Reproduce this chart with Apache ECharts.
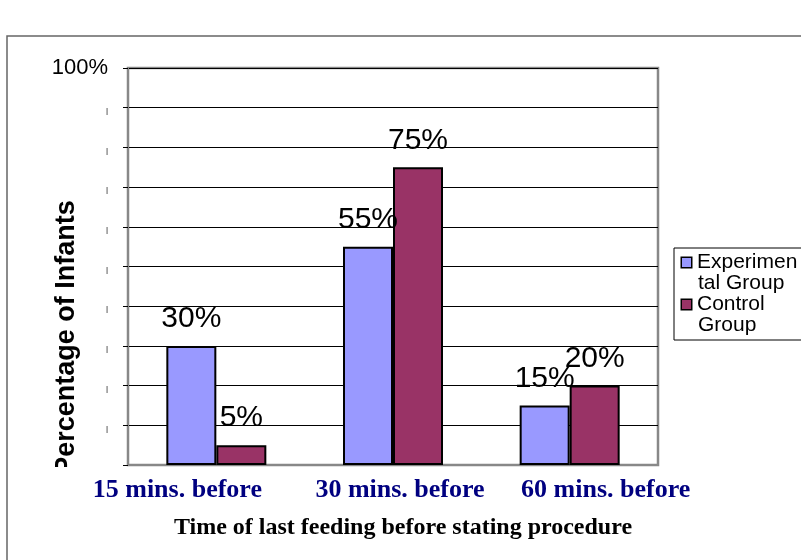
<!DOCTYPE html>
<html>
<head>
<meta charset="utf-8">
<script src="https://cdn.jsdelivr.net/npm/echarts@6/dist/echarts.min.js"></script>
<style>
html,body{margin:0;padding:0;background:#fff;}
#chart{width:801px;height:560px;}
</style>
</head>
<body>
<div id="chart"></div>
<script>
var categories = ['15 mins. before', '30 mins. before', '60 mins. before'];
var experimental = [30, 55, 15];
var control = [5, 75, 20];
var seriesNames = ['Experimental Group', 'Control Group'];
var legendLines = {
  'Experimental Group': ['Experimen', 'tal Group'],
  'Control Group': ['Control', 'Group']
};
var yTickLabels = ['', '|', '|', '|', '|', '|', '|', '|', '|', '|', '100%'];
var yAxisTitle = 'Percentage of Infants';
var xAxisTitle = 'Time of last feeding before stating procedure';

var colors = ['#9999FF', '#993366'];
var catShift = [-39, 7, 36];

var chart = echarts.init(document.getElementById('chart'), null, {renderer: 'canvas'});

var xRich = {};
categories.forEach(function (c, i) {
  var s = catShift[i];
  xRich['c' + i] = {
    fontFamily: 'Liberation Serif',
    fontWeight: 'bold',
    fontSize: 26,
    color: '#000080',
    padding: s < 0 ? [0, -2 * s, 0, 0] : [0, 0, 0, 2 * s]
  };
});

var option = {
  animation: false,
  backgroundColor: '#fff',
  grid: {
    left: 128, right: 143, top: 68, bottom: 95,
    show: true, borderColor: '#888', borderWidth: 2.5, backgroundColor: 'transparent'
  },
  legend: {
    orient: 'vertical',
    left: 674, top: 248,
    padding: [4, 30, 4, 2],
    itemGap: 0,
    icon: 'none',
    itemWidth: 1, itemHeight: 1,
    borderColor: '#000', borderWidth: 1,
    data: seriesNames,
    formatter: function (name) {
      var idx = seriesNames.indexOf(name);
      var lines = legendLines[name];
      return '{sq' + idx + '|}{g|}{t|' + lines[0] + '}\n{ind|}{t|' + lines[1] + '}';
    },
    textStyle: {
      rich: {
        sq0: {width: 9, height: 9, backgroundColor: colors[0], borderColor: '#000', borderWidth: 1.5, lineHeight: 21},
        sq1: {width: 9, height: 9, backgroundColor: colors[1], borderColor: '#000', borderWidth: 1.5, lineHeight: 21},
        g: {width: 6, lineHeight: 21},
        ind: {width: 16, lineHeight: 21},
        t: {fontFamily: 'Liberation Sans', fontSize: 21, lineHeight: 21, color: '#000'}
      }
    }
  },
  xAxis: {
    type: 'category',
    data: categories,
    axisLine: {show: true, lineStyle: {color: '#888', width: 2}},
    axisTick: {show: false},
    axisLabel: {
      interval: 0,
      margin: 12,
      formatter: function (v, i) { return '{c' + i + '|' + v + '}'; },
      rich: xRich
    },
    name: xAxisTitle,
    nameLocation: 'middle',
    nameGap: 51,
    nameTextStyle: {
      fontFamily: 'Liberation Serif', fontWeight: 'bold', fontSize: 24, color: '#000',
      padding: [0, 0, 0, 20]
    }
  },
  yAxis: {
    type: 'value',
    min: 0, max: 100, interval: 10,
    axisLine: {show: true, lineStyle: {color: '#888', width: 2}},
    axisTick: {show: true, inside: false, length: 5, lineStyle: {color: '#000', width: 1}},
    splitLine: {show: true, lineStyle: {color: '#000', width: 1}},
    axisLabel: {
      margin: 20,
      formatter: function (v) {
        var lab = yTickLabels[Math.round(v / 10)];
        if (!lab) return '';
        return lab === '|' ? '{s||}' : '{b|' + lab + '}';
      },
      rich: {
        b: {fontFamily: 'Liberation Sans', fontSize: 22, color: '#000'},
        s: {fontFamily: 'Liberation Sans', fontSize: 8, color: '#000', padding: [6, 0, 0, 0]}
      }
    },
    name: yAxisTitle,
    nameLocation: 'middle',
    nameRotate: 90,
    nameGap: 48,
    nameMoveOverlap: false,
    nameTextStyle: {
      fontFamily: 'Liberation Sans', fontWeight: 'bold', fontSize: 27, color: '#000',
      padding: [0, 142, 0, 0]
    }
  },
  series: [
    {
      name: seriesNames[0], type: 'bar', data: experimental,
      barWidth: 50, barGap: '0%',
      itemStyle: {color: colors[0], borderColor: '#000', borderWidth: 2},
      label: {show: true, position: 'top', distance: 12, formatter: '{c}%',
        fontFamily: 'Liberation Sans', fontSize: 30, color: '#000'}
    },
    {
      name: seriesNames[1], type: 'bar', data: control,
      barWidth: 50, barGap: '0%',
      itemStyle: {color: colors[1], borderColor: '#000', borderWidth: 2},
      label: {show: true, position: 'top', distance: 12, formatter: '{c}%',
        fontFamily: 'Liberation Sans', fontSize: 30, color: '#000'}
    }
  ],
  graphic: [
    {type: 'rect', silent: true, z: 100,
      shape: {x: 40, y: 467, width: 48, height: 12},
      style: {fill: '#fff'}},
    {type: 'rect', silent: true, z: -10,
      shape: {x: 7, y: 36, width: 900, height: 700},
      style: {fill: 'none', stroke: '#666', lineWidth: 1.5}}
  ]
};
chart.setOption(option);
</script>
</body>
</html>
